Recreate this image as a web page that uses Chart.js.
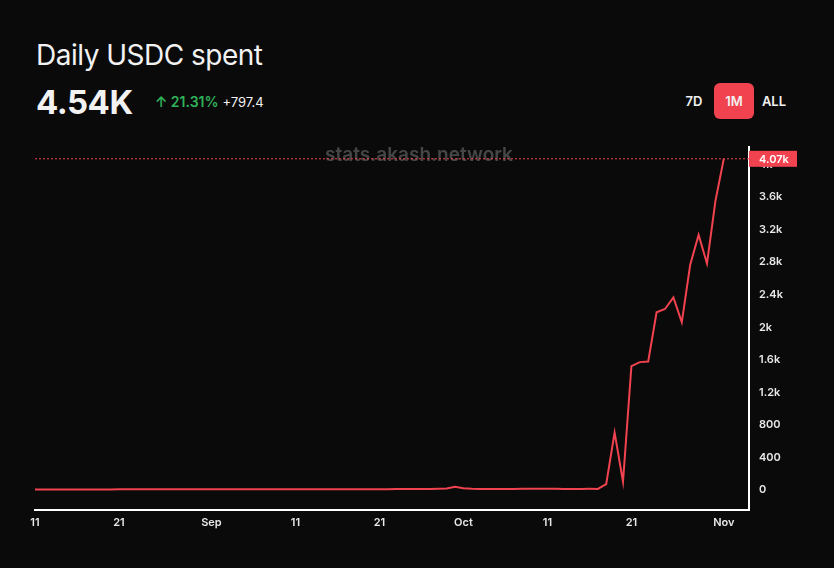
<!DOCTYPE html>
<html>
<head>
<meta charset="utf-8">
<script src="https://cdn.jsdelivr.net/npm/chart.js@4"></script>
<style>
  body { margin:0; background:#0b0a0a; width:834px; height:568px; overflow:hidden; font-family:Inter, sans-serif; color:#f2f2f2; position:relative; }
  #title { position:absolute; left:36px; top:38px; font-size:28px; letter-spacing:-0.5px; }
  #big { position:absolute; left:36px; top:82px; font-size:33px; font-weight:700; letter-spacing:-0.5px; }
  #chg { position:absolute; left:155px; top:93px; font-size:14px; }
  #chg b { color:#2fb35a; font-weight:600; }
  #btns { position:absolute; right:40px; top:83px; display:flex; font-size:13px; font-weight:600; }
  #btns div { width:40px; height:36px; line-height:36px; text-align:center; border-radius:6px; }
  #btns .on { background:#f0434f; }
  #wrap { position:absolute; left:0; top:130px; width:834px; height:438px; }
</style>
</head>
<body>
<div id="title">Daily USDC spent</div>
<div id="big">4.54K</div>
<div id="chg"><b>&#8593; 21.31%</b> <span style="font-size:13px">+797.4</span></div>
<div id="btns"><div>7D</div><div class="on">1M</div><div>ALL</div></div>
<div id="wrap"><canvas id="grafico"></canvas></div>
<script>
// datas diarias de 11 ago ate 4 nov (ultimos dias sem dado)
var dias = [];
var meses = ['Aug', 'Sep', 'Oct', 'Nov'];
var inicio = new Date(2023, 7, 11);
for (var i = 0; i < 86; i++) {
  var d = new Date(inicio.getFullYear(), inicio.getMonth(), inicio.getDate() + i);
  dias.push(d);
}
var valores = [
  8, 8, 8, 8, 8, 8, 8, 8, 8, 8,
  10, 10, 10, 10, 10, 10, 10, 10, 10, 10,
  10, 10, 10, 10, 10, 10, 10, 10, 10, 10,
  10, 10, 10, 10, 10, 10, 10, 10, 10, 10,
  10, 10, 10, 12, 12, 12, 14, 14, 15, 18,
  40, 22, 15, 14, 14, 14, 14, 14, 15, 15,
  15, 15, 15, 14, 14, 14, 15, 14, 73, 706,
  102, 1523, 1572, 1580, 2184, 2225, 2368, 2061, 2768, 3135,
  2784, 3551, 4070, null, null, null
];
var ultimoValor = '4.07k';
var ticksY = [0, 400, 800, 1200, 1600, 2000, 2400, 2800, 3200, 3600, 4000];

var rotuloDia = function (d) {
  if (d.getDate() === 1) return meses[d.getMonth() - 7];
  if (d.getDate() === 11 || d.getDate() === 21) return String(d.getDate());
  return null;
};

// linha tracejada e etiqueta do ultimo valor
var marcaUltimo = {
  id: 'marcaUltimo',
  afterDraw: function (chart) {
    var c = chart.ctx, a = chart.chartArea;
    var y = chart.scales.y.getPixelForValue(4070);
    c.save();
    c.font = '600 19px Inter, sans-serif';
    c.fillStyle = 'rgba(120,120,120,0.55)';
    c.textAlign = 'center';
    c.textBaseline = 'middle';
    c.fillText('stats.akash.network', 419, y - 4);
    c.strokeStyle = '#f0434f';
    c.setLineDash([2, 2]);
    c.lineWidth = 1;
    c.beginPath(); c.moveTo(a.left, y); c.lineTo(a.right, y); c.stroke();
    c.setLineDash([]);
    c.fillStyle = '#f0434f';
    c.fillRect(a.right, y - 8, 48, 16);
    c.fillStyle = '#ffffff';
    c.font = '600 11px Inter, sans-serif';
    c.textAlign = 'left';
    c.fillText(ultimoValor, a.right + 10, y + 1);
    c.restore();
  }
};

new Chart(document.getElementById('grafico'), {
  type: 'line',
  data: {
    labels: dias,
    datasets: [{
      data: valores,
      borderColor: '#f0434f',
      borderWidth: 2,
      pointRadius: 0,
      tension: 0
    }]
  },
  options: {
    responsive: true,
    maintainAspectRatio: false,
    animation: false,
    layout: { padding: { left: 35, top: 15 } },
    plugins: { legend: { display: false }, tooltip: { enabled: false } },
    scales: {
      x: {
        type: 'category',
        grid: { display: false, drawTicks: false },
        border: { color: '#ffffff', width: 2 },
        ticks: {
          autoSkip: false, maxRotation: 0, color: '#e8e8e8', padding: 6,
          font: { family: 'Inter, sans-serif', size: 11, weight: '600' },
          callback: function (v, i) { return rotuloDia(dias[i]); }
        },
        afterFit: function (s) { s.height = 58; }
      },
      y: {
        position: 'right',
        min: -245, max: 4220,
        grid: { display: false, drawTicks: false },
        border: { color: '#ffffff', width: 2 },
        afterBuildTicks: function (s) { s.ticks = ticksY.map(function (v) { return { value: v }; }); },
        ticks: {
          color: '#e8e8e8', padding: 10,
          font: { family: 'Inter, sans-serif', size: 11, weight: '600' },
          callback: function (v) { return v >= 1000 ? (v / 1000) + 'k' : v; }
        },
        afterFit: function (s) { s.width = 85; }
      }
    }
  },
  plugins: [marcaUltimo]
});
</script>
</body>
</html>
